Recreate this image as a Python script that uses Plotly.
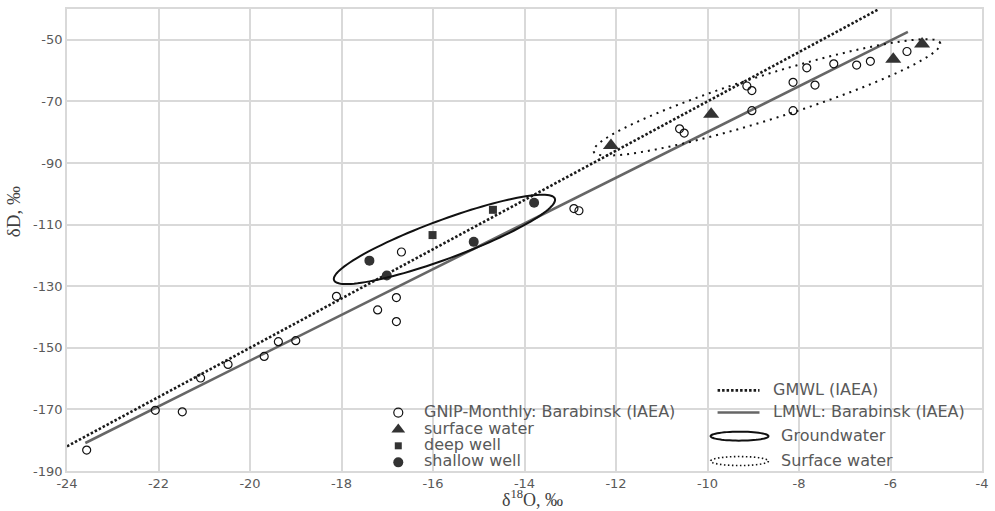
import numpy as np
import plotly.graph_objects as go

# ---------------- data ----------------
gnip_x = [-23.57, -22.07, -21.48, -21.08, -20.48, -19.69, -19.38, -19.00,
          -18.11, -17.21, -16.80, -16.80, -16.69, -12.92, -12.81,
          -10.61, -10.51, -9.14, -9.03, -9.03, -8.13, -8.13, -7.83, -7.65,
          -7.24, -6.74, -6.44, -5.64]
gnip_y = [-183.2, -170.3, -170.8, -159.8, -155.4, -152.8, -148.0, -147.7,
          -133.3, -137.7, -133.7, -141.5, -118.9, -104.8, -105.5,
          -78.9, -80.3, -65.0, -66.5, -73.0, -63.8, -73.0, -59.1, -64.7,
          -57.8, -58.2, -57.0, -53.8]

surface_x = [-12.11, -9.92, -5.94, -5.31]
surface_y = [-84.3, -74.2, -56.3, -51.4]

deep_x = [-16.01, -14.69]
deep_y = [-113.4, -105.2]

shallow_x = [-17.39, -17.01, -15.11, -13.79]
shallow_y = [-121.7, -126.5, -115.6, -102.9]

gmwl_x = [-24.0, -6.25]
gmwl_y = [-182.0, -40.0]

lmwl_x = [-23.6, -5.62]
lmwl_y = [-180.9, -47.4]

x_ticks = [-24, -22, -20, -18, -16, -14, -12, -10, -8, -6, -4]
y_ticks = [-190, -170, -150, -130, -110, -90, -70, -50]

legend_markers = ["GNIP-Monthly: Barabinsk (IAEA)", "surface water", "deep well", "shallow well"]
legend_lines = ["GMWL (IAEA)", "LMWL: Barabinsk (IAEA)", "Groundwater", "Surface water"]

# ellipse outlines: centre (data), semi-axes (px), rotation (deg)
gw_ellipse = dict(cx=-15.75, cy=-114.8, a=118, b=19.5, ang=20.3)
sw_ellipse = dict(cx=-8.70, cy=-68.7, a=182, b=22.3, ang=17.4)

# ---------------- layout geometry ----------------
W, H = 995, 511
ML, MR, MT, MB = 67, 11, 7, 40
XR = [-24, -4]
YR = [-190, -40]
PW, PH = W - ML - MR, H - MT - MB
ppx = PW / (XR[1] - XR[0])
ppy = PH / (YR[1] - YR[0])

FONT = "DejaVu Sans, Open Sans, sans-serif"
SERIF = "Liberation Serif, DejaVu Serif, serif"
TXT = "#595959"


def ellipse_path(e, n=120):
    t = np.linspace(0, 2 * np.pi, n)
    th = np.radians(e["ang"])
    dx = e["a"] * np.cos(t) * np.cos(th) - e["b"] * np.sin(t) * np.sin(th)
    dy = e["a"] * np.cos(t) * np.sin(th) + e["b"] * np.sin(t) * np.cos(th)
    xs = e["cx"] + dx / ppx
    ys = e["cy"] + dy / ppy
    return "M " + " L ".join(f"{a:.4f},{b:.4f}" for a, b in zip(xs, ys)) + " Z"


def px2paper(px, py):
    return (px - ML) / PW, (H - MB - py) / PH


def legend_ellipse_path(cxp, cyp, a, b, n=60):
    t = np.linspace(0, 2 * np.pi, n)
    xs = [(cxp + a * np.cos(tt) - ML) / PW for tt in t]
    ys = [(H - MB - (cyp + b * np.sin(tt))) / PH for tt in t]
    return "M " + " L ".join(f"{a:.5f},{b:.5f}" for a, b in zip(xs, ys)) + " Z"


DARK = "#333333"
fig = go.Figure()

fig.add_trace(go.Scatter(x=gmwl_x, y=gmwl_y, mode="lines",
                         line=dict(color="#1a1a1a", width=2.6, dash="2.5px,2px"),
                         showlegend=False))
fig.add_trace(go.Scatter(x=lmwl_x, y=lmwl_y, mode="lines",
                         line=dict(color="#666666", width=2.6),
                         showlegend=False))
fig.add_trace(go.Scatter(x=gnip_x, y=gnip_y, mode="markers",
                         marker=dict(symbol="circle-open", size=8, color="#111111",
                                     line=dict(width=1.2, color="#111111")),
                         showlegend=False))
fig.add_trace(go.Scatter(x=surface_x, y=surface_y, mode="markers",
                         marker=dict(symbol="triangle-up", size=14, color=DARK),
                         showlegend=False))
fig.add_trace(go.Scatter(x=deep_x, y=deep_y, mode="markers",
                         marker=dict(symbol="square", size=8, color=DARK),
                         showlegend=False))
fig.add_trace(go.Scatter(x=shallow_x, y=shallow_y, mode="markers",
                         marker=dict(symbol="circle", size=10, color=DARK),
                         showlegend=False))

# ---------- legend (manual) on overlay axis in paper fractions ----------
mk_px_x = 399
mk_rows = [412.3, 429.3, 445.7, 462.3]
mk_styles = [
    dict(symbol="circle-open", size=9, color="#111111", line=dict(width=1.2, color="#111111")),
    dict(symbol="triangle-up", size=12, color=DARK),
    dict(symbol="square", size=7, color=DARK),
    dict(symbol="circle", size=10, color=DARK),
]
for py, st in zip(mk_rows, mk_styles):
    xp, yp = px2paper(mk_px_x, py)
    fig.add_trace(go.Scatter(x=[xp], y=[yp], mode="markers", marker=st,
                             xaxis="x2", yaxis="y2", showlegend=False, hoverinfo="skip"))

LEG_SIZE = 16
text_rows = [411.5, 428.5, 444.0, 460.5]
ann = []
for label, py in zip(legend_markers, text_rows):
    xp, yp = px2paper(423, py)
    ann.append(dict(x=xp, y=yp, xref="paper", yref="paper", text=label, showarrow=False,
                    xanchor="left", yanchor="middle",
                    font=dict(family=FONT, size=LEG_SIZE, color=TXT)))

# line samples
for py, ln in [(390, dict(color="#1a1a1a", width=2.6, dash="2.5px,2px")),
               (412.3, dict(color="#666666", width=2.6))]:
    x1, y1 = px2paper(719, py)
    x2, _ = px2paper(761, py)
    fig.add_trace(go.Scatter(x=[x1, x2], y=[y1, y1], mode="lines", line=ln,
                             xaxis="x2", yaxis="y2", showlegend=False, hoverinfo="skip"))

for label, (tx, py) in zip(legend_lines, [(773, 389.5), (773, 411.5), (781, 435.5), (781, 460.5)]):
    xp, yp = px2paper(tx, py)
    ann.append(dict(x=xp, y=yp, xref="paper", yref="paper", text=label, showarrow=False,
                    xanchor="left", yanchor="middle",
                    font=dict(family=FONT, size=LEG_SIZE, color=TXT)))

# axis titles
xp, yp = px2paper(534, 498.5)
ann.append(dict(x=xp, y=yp, xref="paper", yref="paper", text="δ<sup>18</sup>O, ‰",
                showarrow=False, xanchor="center", yanchor="middle",
                font=dict(family=SERIF, size=18, color="#404040")))
xp, yp = px2paper(13, 211)
ann.append(dict(x=xp, y=yp, xref="paper", yref="paper", text="δD, ‰", textangle=-90,
                showarrow=False, xanchor="center", yanchor="middle",
                font=dict(family=SERIF, size=19, color="#404040")))

shapes = [
    dict(type="path", xref="x", yref="y", path=ellipse_path(gw_ellipse),
         line=dict(color="#111111", width=2)),
    dict(type="path", xref="x", yref="y", path=ellipse_path(sw_ellipse, 200),
         line=dict(color="#111111", width=2, dash="2px,5px")),
    dict(type="path", xref="paper", yref="paper", path=legend_ellipse_path(741, 436, 29, 4.5),
         line=dict(color="#111111", width=2)),
    dict(type="path", xref="paper", yref="paper", path=legend_ellipse_path(741, 461, 29, 4.5),
         line=dict(color="#111111", width=1.6, dash="1.5px,2.5px")),
]

fig.update_layout(
    width=W, height=H,
    margin=dict(l=ML, r=MR, t=MT, b=MB),
    paper_bgcolor="white", plot_bgcolor="white",
    showlegend=False,
    font=dict(family=FONT, color=TXT),
    xaxis=dict(range=XR, tickvals=x_ticks, ticktext=[str(v) for v in x_ticks],
               showgrid=True, gridcolor="#d9d9d9", gridwidth=1.6, zeroline=False,
               showline=True, linecolor="#d9d9d9", linewidth=1.6, mirror=True,
               ticks="", tickfont=dict(size=13, color=TXT), fixedrange=True),
    yaxis=dict(range=YR, tickvals=y_ticks, ticktext=[str(v) for v in y_ticks],
               showgrid=True, gridcolor="#d9d9d9", gridwidth=1.6, zeroline=False,
               showline=True, linecolor="#d9d9d9", linewidth=1.6, mirror=True,
               ticks="", tickfont=dict(size=13, color=TXT), fixedrange=True),
    xaxis2=dict(range=[0, 1], overlaying="x", visible=False, fixedrange=True),
    yaxis2=dict(range=[0, 1], overlaying="y", visible=False, fixedrange=True),
    annotations=ann,
    shapes=shapes,
)

fig.write_html("out.html", config={"displayModeBar": False},
               post_script="document.body.style.margin='0';document.body.style.overflow='hidden';")
